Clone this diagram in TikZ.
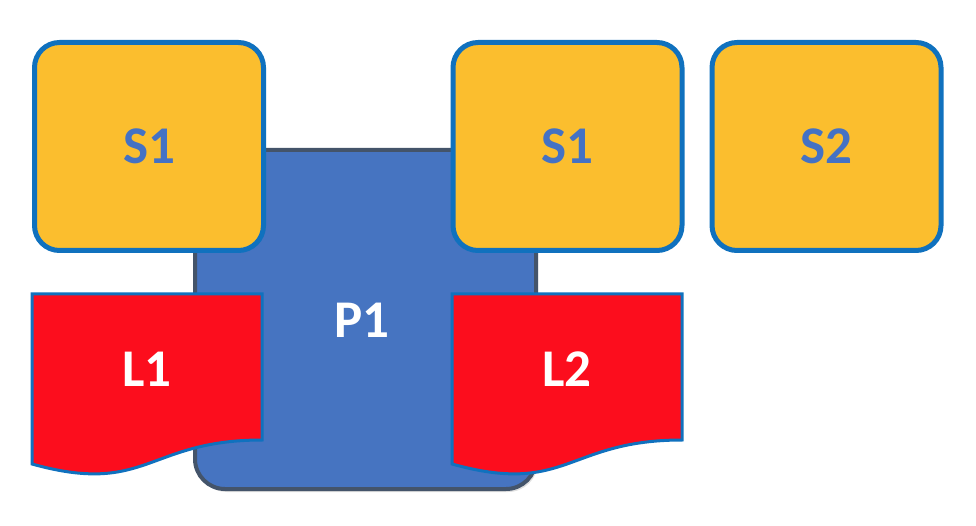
\documentclass[tikz,border=0pt]{standalone}
\usepackage{fontspec}
\setmainfont{Carlito}
\usetikzlibrary{shadows}
\definecolor{sfill}{HTML}{FBBE2E}
\definecolor{sedge}{HTML}{1071BE}
\definecolor{ptext}{HTML}{4472C4}
\definecolor{pfill}{HTML}{4674C1}
\definecolor{pedge}{HTML}{44546A}
\definecolor{lfill}{HTML}{FC0D1D}
\tikzset{
  sbox/.style={draw=sedge, line width=5pt, fill=sfill, rounded corners=25pt,
    minimum width=229pt, minimum height=208pt, inner sep=0pt,
    font=\bfseries\fontsize{53}{60}\selectfont, text=ptext},
  pbox/.style={draw=pedge, line width=4pt, fill=pfill, rounded corners=30pt,
    minimum width=341pt, minimum height=339pt, inner sep=0pt,
    font=\bfseries\fontsize{53}{60}\selectfont, text=white,
    drop shadow={shadow xshift=2pt, shadow yshift=-3pt, opacity=0.25}},
  ldoc/.style={draw=sedge, line width=3pt, fill=lfill},
  ltext/.style={font=\bfseries\fontsize{53}{60}\selectfont, text=white, inner sep=0pt}
}
\begin{document}
\begin{tikzpicture}[x=1pt,y=-1pt]
\useasboundingbox (0,0) rectangle (976,526);
% P1
\node[pbox] (p1) at (365.5,319.5) {};
\node[ltext] (p1t) at (362,320) {P1};
% S boxes
\node[sbox] (s1a) at (149,146.5) {S1};
\node[sbox] (s1b) at (567.5,146.5) {S1};
\node[sbox] (s2) at (826.5,146.5) {S2};
% L1 document shape
\draw[ldoc] (32,294) -- (262,294) -- (262,440)
  .. controls (147,440) and (147,496) .. (32,464) -- cycle;
\node[ltext] (l1) at (147,369) {L1};
% L2 document shape
\draw[ldoc] (452,294) -- (682,294) -- (682,440)
  .. controls (567,440) and (567,496) .. (452,464) -- cycle;
\node[ltext] (l2) at (567,369) {L2};
\end{tikzpicture}
\end{document}
